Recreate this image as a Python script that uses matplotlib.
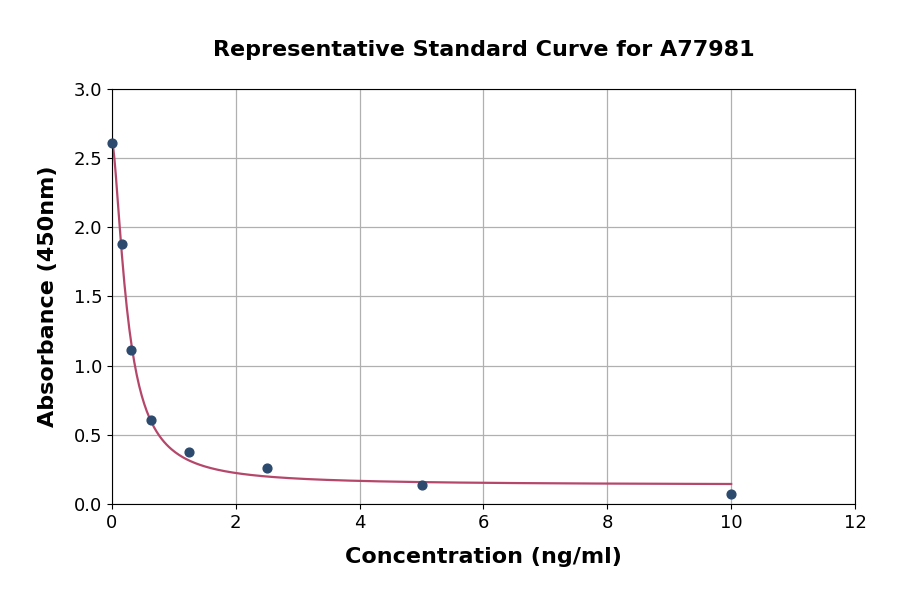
import numpy as np
import matplotlib
matplotlib.use("Agg")
import matplotlib.pyplot as plt

# standard concentrations (ng/ml) and measured absorbance
conc = [0, 0.156, 0.3125, 0.625, 1.25, 2.5, 5, 10]
absorbance = [2.61, 1.88, 1.11, 0.61, 0.376, 0.26, 0.137, 0.072]

# 4PL fit parameters (top, slope, ec50, bottom)
fit_top = 2.62
fit_slope = 1.6
fit_ec50 = 0.25
fit_bottom = 0.138


def four_pl(x):
    return fit_bottom + (fit_top - fit_bottom) / (1 + (x / fit_ec50) ** fit_slope)


fig = plt.figure(figsize=(9, 5.94), dpi=100)
ax = fig.add_axes([0.1244, 0.1515, 0.8256, 0.6987])

xs = np.linspace(0, max(conc), 500)
ax.plot(xs, four_pl(xs), color="#b5476b", linewidth=1.6, zorder=2)
ax.scatter(conc, absorbance, color="#2c4a6e", s=40, zorder=3, clip_on=False)

ax.set_xlim(0, 12)
ax.set_ylim(0, 3.0)
ax.set_xticks([0, 2, 4, 6, 8, 10, 12])
ax.set_yticks([0.0, 0.5, 1.0, 1.5, 2.0, 2.5, 3.0])
ax.yaxis.set_major_formatter(matplotlib.ticker.FormatStrFormatter("%.1f"))
ax.tick_params(labelsize=13)
ax.grid(True, color="#b0b0b0", linewidth=0.9)
ax.set_axisbelow(True)

ax.set_title("Representative Standard Curve for A77981", fontsize=16,
             fontweight="bold", pad=24)
ax.set_xlabel("Concentration (ng/ml)", fontsize=16, fontweight="bold", labelpad=11)
ax.set_ylabel("Absorbance (450nm)", fontsize=16, fontweight="bold", labelpad=11)

fig.savefig("out.png", dpi=100)
